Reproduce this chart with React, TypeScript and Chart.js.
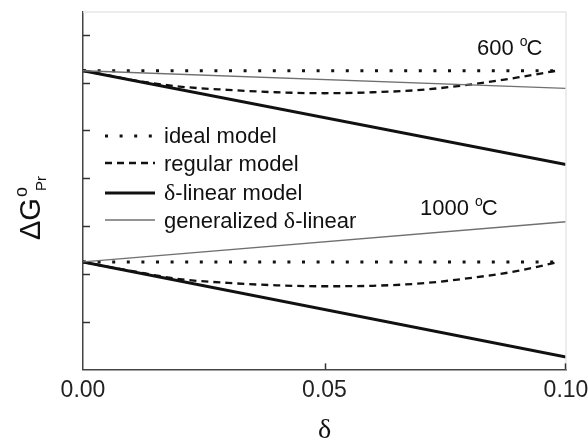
import React, { useEffect, useRef } from "react";
import { Chart, registerables } from "chart.js";

Chart.register(...registerables);

const SANS = "'Liberation Sans', Arial, sans-serif";
const SERIF = "'Liberation Serif', 'Times New Roman', serif";

// x values (delta)
const xTickLabels = ["0.00", "0.05", "0.10"];
const xLinear = [0, 0.1];
const xIdeal = [0, 0.098];
const xRegular = [0, 0.005, 0.01, 0.02, 0.03, 0.04, 0.05, 0.06, 0.07, 0.08, 0.09, 0.098];

// 600 °C
const ideal600 = [6.25, 6.25];
const regular600 = [6.25, 6.16, 6.06, 5.92, 5.85, 5.8, 5.78, 5.8, 5.85, 5.96, 6.11, 6.25];
const linear600 = [6.25, 4.29];
const general600 = [6.25, 5.88];

// 1000 °C
const ideal1000 = [2.25, 2.25];
const regular1000 = [2.25, 2.15, 2.06, 1.89, 1.81, 1.76, 1.74, 1.75, 1.8, 1.91, 2.06, 2.24];
const linear1000 = [2.25, 0.26];
const general1000 = [2.25, 3.09];

const legendLabels = ["ideal model", "regular model", "δ-linear model", "generalized δ-linear"];
const tempLabels = ["600", "1000"];

const pts = (xs: number[], ys: number[]) => xs.map((x, i) => ({ x, y: ys[i] }));

const STYLE = {
  ideal: { borderColor: "#111", borderWidth: 3, borderDash: [3, 11.6] },
  regular: { borderColor: "#111", borderWidth: 2.3, borderDash: [7, 5] },
  linear: { borderColor: "#111", borderWidth: 3, borderDash: [] as number[] },
  general: { borderColor: "#707070", borderWidth: 1.3, borderDash: [] as number[] },
};

function drawTextWithDelta(ctx: CanvasRenderingContext2D, text: string, x: number, y: number, size: number) {
  const parts = text.split("δ");
  let cx = x;
  parts.forEach((p, i) => {
    if (i > 0) {
      ctx.font = `${size + 2}px ${SERIF}`;
      ctx.fillText("δ", cx, y);
      cx += ctx.measureText("δ").width;
    }
    ctx.font = `${size}px ${SANS}`;
    ctx.fillText(p, cx, y);
    cx += ctx.measureText(p).width;
  });
}

const decorPlugin = {
  id: "decor",
  afterDraw(chart: any) {
    const { ctx, chartArea } = chart;
    const xs = chart.scales.x;
    const ys = chart.scales.y;
    ctx.save();
    // light top / right frame
    ctx.strokeStyle = "#e6e6e6";
    ctx.lineWidth = 1.5;
    ctx.beginPath();
    ctx.moveTo(chartArea.left, chartArea.top);
    ctx.lineTo(chartArea.right, chartArea.top);
    ctx.lineTo(chartArea.right, chartArea.bottom);
    ctx.stroke();

    // inner ticks
    ctx.strokeStyle = "#333";
    ctx.lineWidth = 1.5;
    ys.ticks.forEach((t: any) => {
      if (t.value > 0 && Number.isInteger(t.value)) {
        const py = Math.round(ys.getPixelForValue(t.value)) + 0.5;
        ctx.beginPath();
        ctx.moveTo(chartArea.left, py);
        ctx.lineTo(chartArea.left + 7, py);
        ctx.stroke();
      }
    });
    xs.ticks.forEach((t: any) => {
      if (t.value > 0) {
        const px = Math.min(Math.round(xs.getPixelForValue(t.value)), chartArea.right - 1) + 0.5;
        ctx.beginPath();
        ctx.moveTo(px, chartArea.bottom);
        ctx.lineTo(px, chartArea.bottom - 6);
        ctx.stroke();
      }
    });

    // legend
    const styles = [STYLE.ideal, STYLE.regular, STYLE.linear, STYLE.general];
    const lineY = [136, 163, 193, 220];
    const textY = [143, 171, 200, 228];
    styles.forEach((s, i) => {
      ctx.strokeStyle = s.borderColor;
      ctx.lineWidth = s.borderWidth;
      ctx.setLineDash(s.borderDash);
      ctx.beginPath();
      ctx.moveTo(105, lineY[i]);
      ctx.lineTo(155, lineY[i]);
      ctx.stroke();
      ctx.setLineDash([]);
      ctx.fillStyle = "#111";
      ctx.textBaseline = "alphabetic";
      ctx.textAlign = "left";
      drawTextWithDelta(ctx, legendLabels[i], 164, textY[i], 22);
    });

    // temperature annotations
    const drawTemp = (label: string, x: number, y: number) => {
      ctx.fillStyle = "#111";
      ctx.textAlign = "left";
      ctx.font = `22px ${SANS}`;
      const t = label + " ";
      ctx.fillText(t, x, y);
      let cx = x + ctx.measureText(t).width;
      ctx.font = `14px ${SANS}`;
      ctx.fillText("o", cx, y - 9);
      cx += ctx.measureText("o").width - 1;
      ctx.font = `22px ${SANS}`;
      ctx.fillText("C", cx, y);
    };
    drawTemp(tempLabels[0], 477, 55);
    drawTemp(tempLabels[1], 420, 215);

    // y title
    ctx.save();
    ctx.translate(40, 240);
    ctx.rotate(-Math.PI / 2);
    ctx.fillStyle = "#111";
    ctx.textAlign = "left";
    ctx.font = `29px ${SANS}`;
    ctx.fillText("ΔG", 0, 0);
    const w = ctx.measureText("ΔG").width;
    ctx.font = `18px ${SANS}`;
    ctx.fillText("o", w + 1, -13);
    ctx.font = `15px ${SANS}`;
    ctx.fillText("Pr", w + 7, 6);
    ctx.restore();

    // x title
    ctx.fillStyle = "#111";
    ctx.textAlign = "center";
    ctx.font = `28px ${SERIF}`;
    ctx.fillText("δ", (chartArea.left + chartArea.right) / 2, 438);
    ctx.restore();
  },
};

export default function App() {
  const ref = useRef<HTMLCanvasElement | null>(null);
  useEffect(() => {
    if (!ref.current) return;
    const mk = (label: string, data: any[], s: any, mono = false) => ({
      label,
      data,
      borderColor: s.borderColor,
      borderWidth: s.borderWidth,
      borderDash: s.borderDash,
      pointRadius: 0,
      fill: false,
      cubicInterpolationMode: mono ? "monotone" : "default",
      tension: 0,
    });
    const chart = new Chart(ref.current, {
      type: "line",
      data: {
        datasets: [
          mk("generalized 600", pts(xLinear, general600), STYLE.general),
          mk("generalized 1000", pts(xLinear, general1000), STYLE.general),
          mk("linear 600", pts(xLinear, linear600), STYLE.linear),
          mk("linear 1000", pts(xLinear, linear1000), STYLE.linear),
          mk("regular 600", pts(xRegular, regular600), STYLE.regular, true),
          mk("regular 1000", pts(xRegular, regular1000), STYLE.regular, true),
          mk("ideal 600", pts(xIdeal, ideal600), STYLE.ideal),
          mk("ideal 1000", pts(xIdeal, ideal1000), STYLE.ideal),
        ] as any,
      },
      options: {
        responsive: false,
        animation: false,
        layout: { padding: { left: 83, right: 22, top: 12, bottom: 30 } },
        plugins: { legend: { display: false }, tooltip: { enabled: false } },
        scales: {
          x: {
            type: "linear",
            min: 0,
            max: 0.1,
            ticks: {
              stepSize: 0.05,
              padding: 7,
              color: "#222",
              font: { family: SANS, size: 23 },
              maxRotation: 0,
              callback: (v: any, i: number) => xTickLabels[i] ?? Number(v).toFixed(2),
            },
            grid: { display: false, drawTicks: false },
            border: { display: true, color: "#444", width: 1.5 },
            afterFit: (scale: any) => {
              scale.paddingLeft = 0;
              scale.paddingRight = 0;
            },
          },
          y: {
            type: "linear",
            min: 0,
            max: 7.48,
            ticks: { display: false, stepSize: 1 },
            grid: { display: false, drawTicks: false },
            border: { display: true, color: "#444", width: 1.5 },
            afterFit: (scale: any) => {
              scale.width = 0;
            },
          },
        },
      } as any,
      plugins: [decorPlugin],
    });
    return () => chart.destroy();
  }, []);
  return (
    <div style={{ position: "fixed", left: 0, top: 0, width: 588, height: 441, background: "#fff" }}>
      <canvas ref={ref} width={588} height={441} />
    </div>
  );
}
